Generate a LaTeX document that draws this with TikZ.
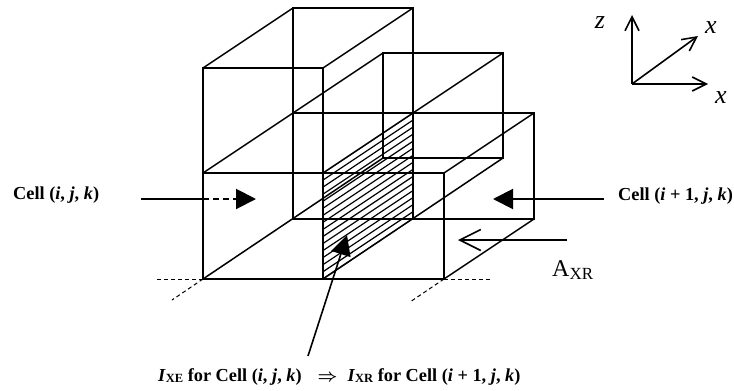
\documentclass[tikz,border=0pt]{standalone}
\usepackage{fontspec}
\setmainfont{Liberation Serif}
\usetikzlibrary{arrows.meta}
\newcommand{\bi}[1]{\textbf{\textit{#1}}}
\tikzset{
  x=1pt,y=-1pt,
  edge/.style={line width=2pt,line cap=round,line join=miter},
  slant/.style={line width=1.5pt,line cap=round},
  hatchline/.style={line width=1.2pt},
  guide/.style={line width=1pt,dash pattern=on 4pt off 3pt},
  solidhead/.style={line width=1.6pt,-{Triangle[length=20pt,width=20pt]}},
  openhead/.style={line width=1.6pt,-{Straight Barb[length=14pt,width=14pt,line width=1.6pt]}},
  cell/.style={inner sep=0pt,font=\fontsize{18.3}{20}\selectfont\bfseries,anchor=west},
  axislabel/.style={inner sep=0pt,font=\fontsize{26}{28}\selectfont\itshape}
}
\begin{document}
\begin{tikzpicture}
\useasboundingbox (0,0) rectangle (734,391);
% hatch of the shared face
\begin{scope}
\clip (323,173) -- (413,113) -- (413,219) -- (323,279) -- cycle;
\foreach \d in {0,7.05,...,106}{
  \draw[hatchline] (323,173+\d) -- (413,113+\d);
}
\end{scope}
% receding edges
\draw[slant] (203,68) -- (293,8);
\draw[slant] (323,68) -- (413,8);
\draw[slant] (203,173) -- (383,53);
\draw[slant] (323,173) -- (503,53);
\draw[slant] (444,173) -- (534,113);
\draw[slant] (444,279) -- (534,219);
\draw[slant] (203,279) -- (383,158);
\draw[slant] (323,279) -- (503,158);
% tall box
\draw[edge] (203,279) -- (203,68) -- (323,68) -- (323,279);
\draw[edge] (293,219) -- (293,8) -- (413,8) -- (413,219);
% lower boxes
\draw[edge] (203,173) -- (444,173) -- (444,279) -- (203,279);
\draw[edge] (383,53) -- (503,53) -- (503,158) -- (383,158) -- cycle;
\draw[edge] (293,113) -- (534,113) -- (534,219) -- (293,219);
% dashed guides
\draw[guide] (203,279) -- (157,279);
\draw[guide] (203,279) -- (172,300);
\draw[guide] (444,279) -- (490,279);
\draw[guide] (444,279) -- (410,302);
% axes
\coordinate (o) at (632,84);
\coordinate (zt) at (632,15);
\coordinate (xd) at (698,36);
\coordinate (xr) at (708,84);
\draw[openhead] (o) -- (zt);
\draw[openhead] (o) -- (xd);
\draw[openhead] (o) -- (xr);
% flux arrows
\coordinate (la) at (141,199);
\coordinate (lb) at (203,199);
\coordinate (lc) at (256,199);
\draw[line width=2pt] (la) -- (lb);
\draw[solidhead,line width=2pt,dash pattern=on 6pt off 4pt] (lb) -- (lc);
\coordinate (ra) at (604,199);
\coordinate (rb) at (493,199);
\draw[solidhead,line width=2pt] (ra) -- (rb);
\coordinate (aa) at (567,240);
\coordinate (ab) at (458,240);
\draw[line width=2pt,-{Straight Barb[length=21pt,width=21pt,line width=1.6pt]}] (aa) -- (ab);
\coordinate (ba) at (308,356);
\coordinate (bb) at (347,235);
\draw[solidhead] (ba) -- (bb);
% labels
\node[axislabel] (lz) at (600,23) {z};
\node[axislabel] (lxd) at (711,28) {x};
\node[axislabel] (lxr) at (721,98) {x};
\node[cell] (c1) at (13,195) {Cell (\bi{i}, \bi{j}, \bi{k})};
\node[cell] (c2) at (618,196) {Cell (\bi{i} + 1, \bi{j}, \bi{k})};
\node[inner sep=0pt,anchor=west,font=\fontsize{24}{26}\selectfont] (axr) at (552,270) {A\raisebox{-3pt}{\fontsize{17}{19}\selectfont XR}};
\node[cell] (c3) at (158,377) {\bi{I}\raisebox{-1.5pt}{\fontsize{12.5}{14}\selectfont XE} for Cell (\bi{i}, \bi{j}, \bi{k})\hspace{16pt}{\boldmath$\Rightarrow$}\hspace{10pt}\bi{I}\raisebox{-1.5pt}{\fontsize{12.5}{14}\selectfont XR} for Cell (\bi{i} + 1, \bi{j}, \bi{k})};
\end{tikzpicture}
\end{document}
